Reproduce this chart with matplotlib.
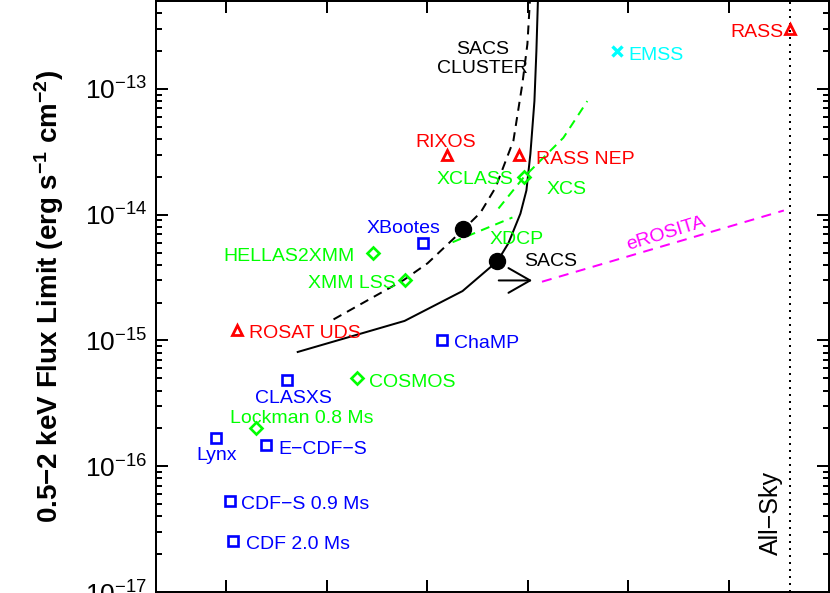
import numpy as np
import matplotlib
matplotlib.use('Agg')
import matplotlib.pyplot as plt
from matplotlib.ticker import LogLocator, NullLocator, FuncFormatter

plt.rcParams['font.family'] = ['Liberation Sans', 'DejaVu Sans']
plt.rcParams['mathtext.fontset'] = 'custom'
plt.rcParams['mathtext.rm'] = 'Liberation Sans'
plt.rcParams['mathtext.bf'] = 'Liberation Sans:bold'
plt.rcParams['mathtext.it'] = 'Liberation Sans:italic'

# ---------------- data ----------------
rosat_names = ['RASS', 'RIXOS', 'RASS NEP', 'ROSAT UDS']
rosat_area = [41253, 15.6, 81.6, 0.129]
rosat_flux = [3e-13, 3e-14, 3e-14, 1.2e-15]

emss_names = ['EMSS']
emss_area = [770]
emss_flux = [2e-13]

xmm_names = ['XCLASS', 'HELLAS2XMM', 'XMM LSS', 'COSMOS', 'Lockman 0.8 Ms']
xmm_area = [91.5, 2.9, 6.0, 2.0, 0.2]
xmm_flux = [2e-14, 5e-15, 3e-15, 5e-16, 2e-16]

chandra_names = ['XBootes', 'ChaMP', 'CLASXS', 'Lynx', 'E\u2212CDF\u2212S',
                 'CDF\u2212S 0.9 Ms', 'CDF 2.0 Ms']
chandra_area = [9.0, 14.1, 0.40, 0.079, 0.25, 0.109, 0.118]
chandra_flux = [6e-15, 1e-15, 4.85e-16, 1.67e-16, 1.47e-16, 5.3e-17, 2.53e-17]

sacs_area = [0.515, 5.96, 22.5, 50.1, 64.4, 84.8, 97.3, 106.6, 116.9, 122.3, 126.6, 129.5]
sacs_flux = [8.1e-16, 1.43e-15, 2.47e-15, 4.27e-15, 5.93e-15, 1.02e-14, 1.56e-14,
             3.05e-14, 8.0e-14, 2.0e-13, 5.0e-13, 7.2e-13]

cluster_area = [1.17, 5.83, 10.1, 23.0, 34.0, 47.9, 64.4, 72.2, 88.7, 99.5, 105.4, 108]
cluster_flux = [1.47e-15, 3.02e-15, 4.11e-15, 7.65e-15, 1.04e-14, 1.64e-14, 3.05e-14,
                3.87e-14, 1.1e-13, 2.27e-13, 5.0e-13, 7e-13]

xdcp_area = [17.9, 70.6]
xdcp_flux = [6.04e-15, 9.5e-15]

xcs_area = [51.3, 90.8, 227, 393]
xcs_flux = [1.12e-14, 1.97e-14, 4.09e-14, 8.0e-14]

erosita_area = [139, 35560]
erosita_flux = [2.93e-15, 1.08e-14]

dot_area = [23.0, 50.1]
dot_flux = [7.65e-15, 4.27e-15]

arrow_area = [51.6, 111]
arrow_flux = [3e-15, 3e-15]

all_sky_area = 41253

# ---------------- layout (label offsets in pixels) ----------------
rosat_offsets = [(-7, -7.7, 'right'), (-1, 7.6, 'center'), (17, -9, 'left'), (11.6, -7.7, 'left')]
emss_offsets = [(12, -9.3, 'left')]
xmm_offsets = [(-10, -7.3, 'right'), (-19, -8.4, 'right'), (-9.3, -7.3, 'right'),
               (11.6, -9, 'left'), (45, 5, 'center')]
chandra_offsets = [(-19.5, 9.4, 'center'), (11.6, -8, 'left'), (6.8, -22.7, 'center'),
                   (1, -22, 'center'), (12.4, -9, 'left'), (11.4, -8, 'left'), (12.3, -8, 'left')]

RED, GREEN, BLUE, CYAN, MAG = '#ff0000', '#00ff00', '#0000ff', '#00ffff', '#ff00ff'
LW = 1.44
FS = 14

fig = plt.figure(figsize=(8.3, 5.93), dpi=100)
ax = fig.add_axes([156 / 830, 1 / 593, 673 / 830, 591 / 593])
ax.set_xscale('log')
ax.set_yscale('log')
ax.set_xlim(0.02, 1e5)
ax.set_ylim(1e-17, 5e-13)

# curves
ax.plot(sacs_area, sacs_flux, color='k', lw=LW, solid_joinstyle='miter')
ax.plot(cluster_area, cluster_flux, color='k', lw=LW, linestyle=(0, (4.5, 3.2)))
ax.plot(xdcp_area, xdcp_flux, color=GREEN, lw=LW, linestyle=(0, (4.5, 3.2)))
ax.plot(xcs_area, xcs_flux, color=GREEN, lw=LW, linestyle=(0, (4.5, 3.2)))
ax.plot(erosita_area, erosita_flux, color=MAG, lw=LW, linestyle=(0, (5, 3.8)))
ax.axvline(all_sky_area, color='k', lw=LW, linestyle=(0, (1, 2.5)))
ax.plot(dot_area, dot_flux, 'o', color='k', ms=11.5, zorder=5)
ax.annotate('', xy=(arrow_area[1], arrow_flux[1]), xytext=(arrow_area[0], arrow_flux[0]),
            arrowprops=dict(arrowstyle='->,head_length=1.56,head_width=0.89',
                            lw=LW, color='k', shrinkA=0, shrinkB=0, mutation_scale=10))

# markers
ax.plot(rosat_area, rosat_flux, '^', ms=7.5, mfc='none', mec=RED, mew=2.0, ls='none')
ax.plot(emss_area, emss_flux, 'x', ms=7.5, mec=CYAN, mew=2.4, ls='none')
ax.plot(xmm_area, xmm_flux, 'D', ms=5.8, mfc='none', mec=GREEN, mew=1.9, ls='none')
ax.plot(chandra_area, chandra_flux, 's', ms=6.8, mfc='none', mec=BLUE, mew=1.9, ls='none')

def label_group(names, areas, fluxes, offsets, color):
    for n, a, f, (dx, dy, ha) in zip(names, areas, fluxes, offsets):
        ax.annotate(n, xy=(a, f), xytext=(dx, dy), textcoords='offset pixels',
                    ha=ha, va='baseline', color=color, fontsize=FS)

label_group(rosat_names, rosat_area, rosat_flux, rosat_offsets, RED)
label_group(emss_names, emss_area, emss_flux, emss_offsets, CYAN)
label_group(xmm_names, xmm_area, xmm_flux, xmm_offsets, GREEN)
label_group(chandra_names, chandra_area, chandra_flux, chandra_offsets, BLUE)

# curve labels
ax.text(35.5, 1.73e-13, 'SACS\nCLUSTER', ha='center', va='center', color='k', fontsize=FS,
        linespacing=1.2)
ax.text(91.5, 3.92e-15, 'SACS', ha='left', va='baseline', color='k', fontsize=FS)
ax.text(41.7, 5.89e-15, 'XDCP', ha='left', va='baseline', color=GREEN, fontsize=FS)
ax.text(156, 1.47e-14, 'XCS', ha='left', va='baseline', color=GREEN, fontsize=FS)
ax.text(2399, 7.11e-15, 'eROSITA', ha='center', va='center', color=MAG, fontsize=FS,
        rotation=17, rotation_mode='anchor')
ax.text(31120, 1.97e-17, 'All\u2212Sky', ha='left', va='baseline', color='k', fontsize=18,
        rotation=90, rotation_mode='anchor')

# axes styling
for s in ax.spines.values():
    s.set_linewidth(LW)
ax.xaxis.set_major_locator(LogLocator(base=10, numticks=20))
ax.xaxis.set_minor_locator(NullLocator())
ax.yaxis.set_major_locator(LogLocator(base=10, numticks=20))
ax.yaxis.set_minor_locator(LogLocator(base=10, subs=np.arange(2, 10), numticks=20))
ax.yaxis.set_major_formatter(FuncFormatter(lambda v, p: r'$\mathregular{10^{%d}}$' % round(np.log10(v))))
ax.tick_params(which='both', direction='in', top=True, right=True, bottom=True, left=True,
               labelbottom=False, width=LW, colors='k')
ax.tick_params(which='major', length=8.6, labelsize=19, pad=6.5)
ax.tick_params(which='minor', length=4.3)

ax.set_ylabel('0.5\u22122 keV Flux Limit (erg s$^{\\mathbf{-1}}$ cm$^{\\mathbf{-2}}$)',
              fontsize=20, fontweight='bold')
ax.yaxis.set_label_coords(-0.134, 0.5)

fig.savefig('out.png', dpi=100)
